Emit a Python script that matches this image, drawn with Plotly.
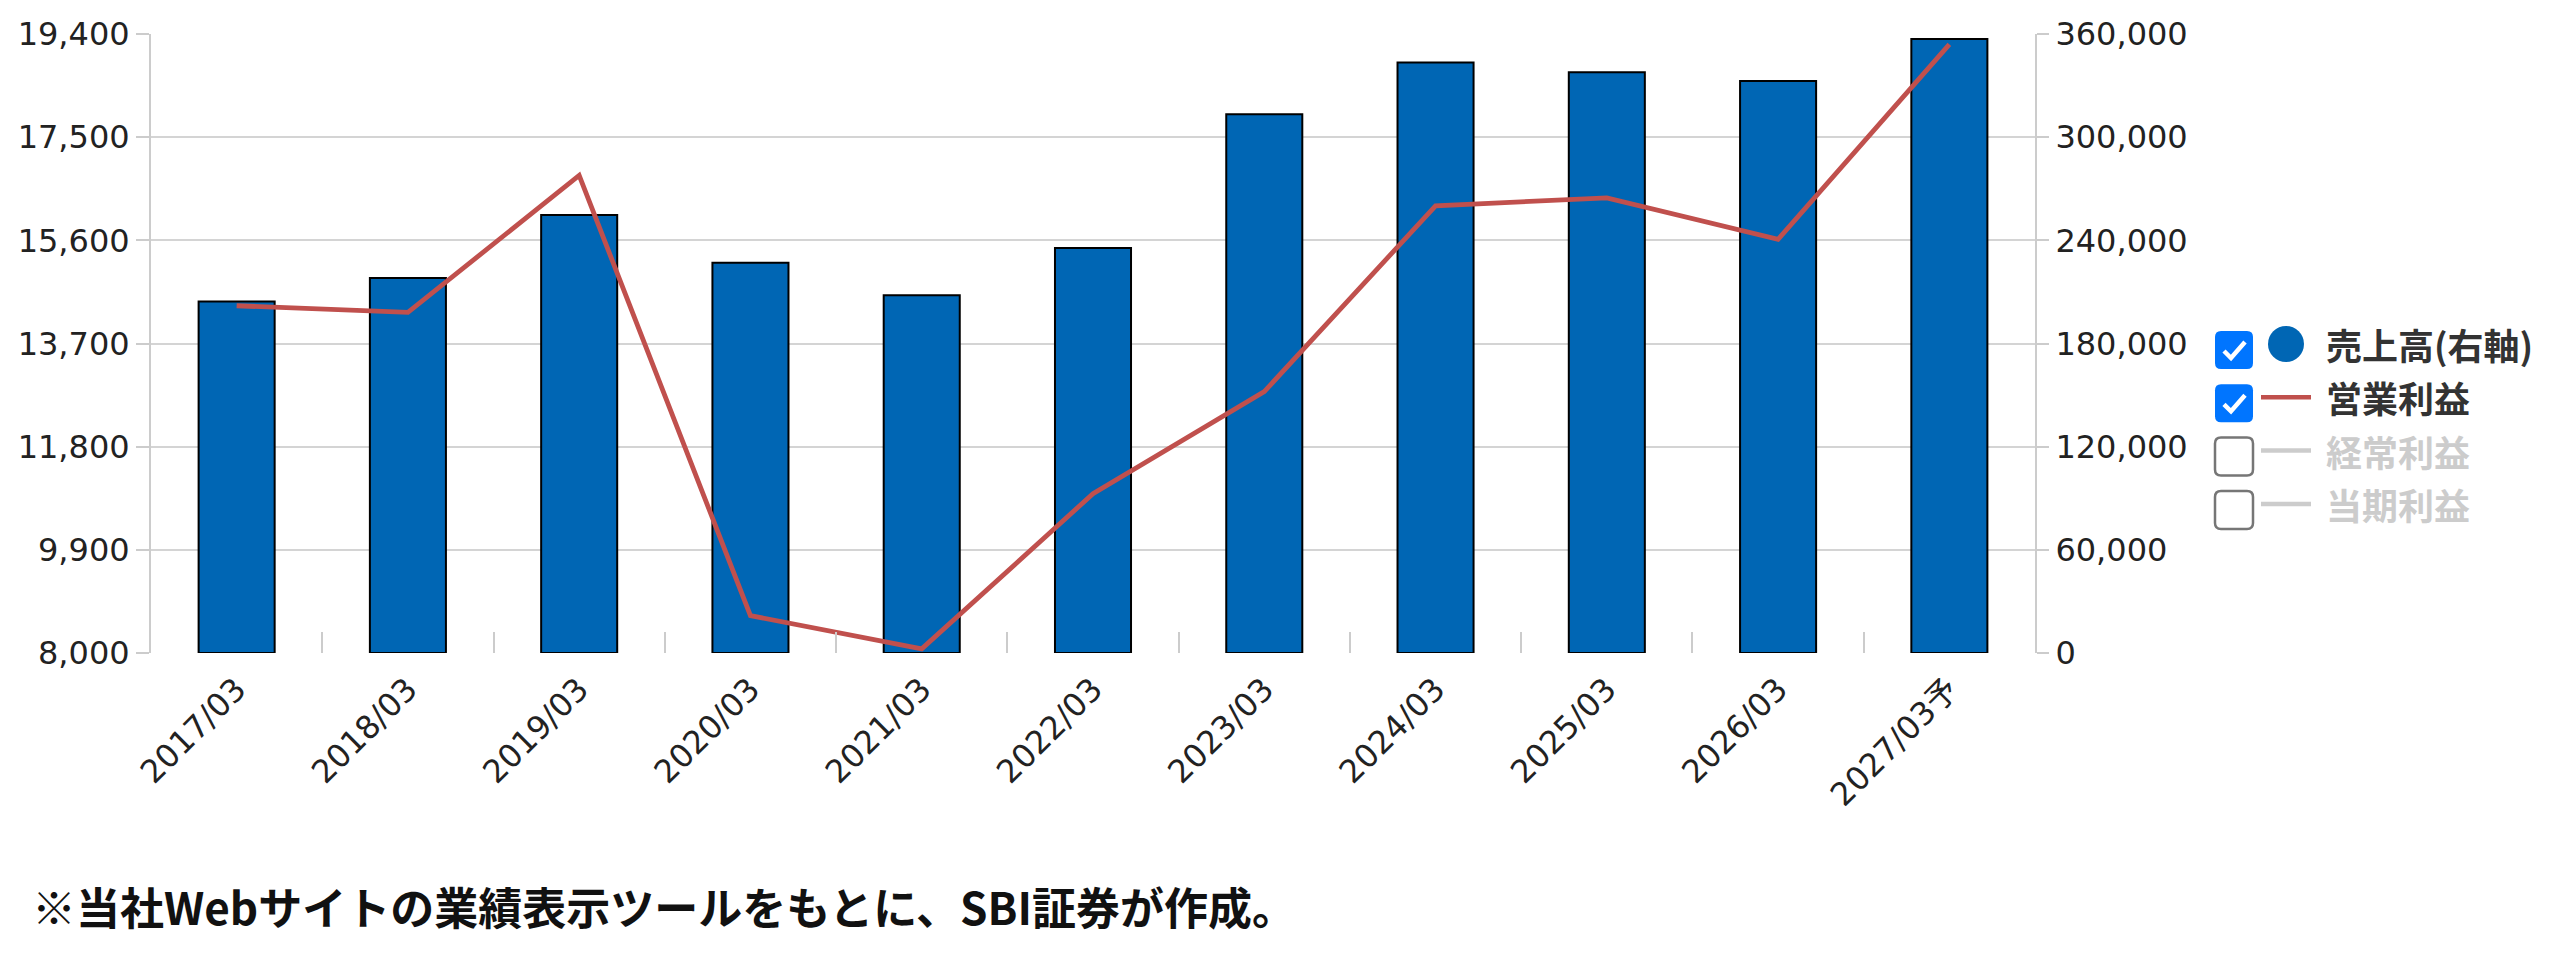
import plotly.graph_objects as go

# 決算期
periods = ["2017/03", "2018/03", "2019/03", "2020/03", "2021/03", "2022/03",
           "2023/03", "2024/03", "2025/03", "2026/03", "2027/03予"]
# 売上高 (右軸)
sales = [204400, 218100, 254800, 227000, 208000, 235500,
         313400, 343400, 337800, 332700, 357100]
# 営業利益 (左軸)
op_profit = [14395, 14273, 16795, 8688, 8076, 10934,
             12814, 16237, 16382, 15618, 19209]

left_ticks = [8000, 9900, 11800, 13700, 15600, 17500, 19400]
right_ticks = [0, 60000, 120000, 180000, 240000, 300000, 360000]

legend_labels = ["売上高(右軸)", "営業利益", "経常利益", "当期利益"]
legend_checked = [True, True, False, False]

note = "※当社Webサイトの業績表示ツールをもとに、SBI証券が作成。"

BAR = "#0066b4"
RED = "#c0504d"
GRID = "#d4d4d4"
W, H = 2560, 963
L, R, T, B = 151, 2035, 34, 653


def px(x):
    return (x - L) / (R - L)


def py(y):
    return (B - y) / (B - T)


def rounded_box(x0, y0, x1, y1, r):
    pts = [f"M{px(x0 + r)},{py(y0)}", f"L{px(x1 - r)},{py(y0)}",
           f"Q{px(x1)},{py(y0)} {px(x1)},{py(y0 + r)}", f"L{px(x1)},{py(y1 - r)}",
           f"Q{px(x1)},{py(y1)} {px(x1 - r)},{py(y1)}", f"L{px(x0 + r)},{py(y1)}",
           f"Q{px(x0)},{py(y1)} {px(x0)},{py(y1 - r)}", f"L{px(x0)},{py(y0 + r)}",
           f"Q{px(x0)},{py(y0)} {px(x0 + r)},{py(y0)}", "Z"]
    return " ".join(pts)


fig = go.Figure()
fig.add_trace(go.Bar(x=periods, y=sales, name="売上高(右軸)", yaxis="y",
                     marker=dict(color=BAR, line=dict(color="#000000", width=2))))
fig.add_trace(go.Scatter(x=periods, y=op_profit, name="営業利益", yaxis="y2",
                         mode="lines", line=dict(color=RED, width=4.8)))

tick_font = dict(family="DejaVu Sans, Noto Sans CJK JP", size=32, color="#222222")

fig.update_layout(
    width=W, height=H,
    margin=dict(l=L, r=W - R, t=T, b=H - B),
    paper_bgcolor="white", plot_bgcolor="white",
    showlegend=False, bargap=0.556,
    xaxis=dict(type="category", categoryorder="array", categoryarray=periods,
               tickson="boundaries", ticks="inside", ticklen=21, tickwidth=2,
               tickcolor="#cccccc", tickangle=-45, tickfont=tick_font,
               ticklabelstandoff=10,
               showgrid=False, showline=False, zeroline=False),
    yaxis=dict(side="right", range=[0, 360000], tickvals=right_ticks,
               tickformat=",d", tickfont=tick_font,
               showgrid=True, gridcolor=GRID, gridwidth=2,
               showline=True, linecolor="#cccccc", linewidth=2,
               ticks="outside", ticklen=12, tickwidth=2, tickcolor="#cccccc",
               zeroline=False),
    yaxis2=dict(side="left", overlaying="y", range=[8000, 19400], tickvals=left_ticks,
                tickformat=",d", tickfont=tick_font, showgrid=False,
                showline=True, linecolor="#cccccc", linewidth=2,
                ticks="outside", ticklen=13, tickwidth=2, tickcolor="#cccccc",
                zeroline=False),
)

# checkbox legend
shapes = []
annotations = []
for i, (lab, on) in enumerate(zip(legend_labels, legend_checked)):
    yc = 344 + i * 53.3
    by = yc + 6
    shapes.append(dict(type="path", xref="paper", yref="paper",
                       path=rounded_box(2215, by - 19, 2253, by + 19, 6),
                       fillcolor="#0075ff" if on else "white",
                       line=dict(color="#0075ff" if on else "#767676", width=0 if on else 2.5)))
    if on:
        chk = (f"M{px(2224)},{py(by + 1)} L{px(2231)},{py(by + 8)} "
               f"L{px(2245)},{py(by - 8)}")
        shapes.append(dict(type="path", xref="paper", yref="paper", path=chk,
                           line=dict(color="white", width=4.5)))
    if i == 0:
        shapes.append(dict(type="circle", xref="paper", yref="paper",
                           x0=px(2268), x1=px(2304), y0=py(yc + 18), y1=py(yc - 18),
                           fillcolor=BAR, line=dict(width=0)))
    else:
        shapes.append(dict(type="line", xref="paper", yref="paper",
                           x0=px(2261), x1=px(2311), y0=py(yc), y1=py(yc),
                           line=dict(color=RED if on else "#cccccc", width=4.5)))
    annotations.append(dict(xref="paper", yref="paper", x=px(2324), y=py(yc),
                            xanchor="left", yanchor="middle", showarrow=False,
                            text=lab,
                            font=dict(family="Noto Sans CJK JP", size=36, weight="bold",
                                      color="#333333" if on else "#cccccc")))

annotations.append(dict(xref="paper", yref="paper", x=px(30), y=py(906),
                        xanchor="left", yanchor="middle", showarrow=False, text=note,
                        font=dict(family="Noto Sans CJK JP", size=44, weight="bold",
                                  color="#111111")))

fig.update_layout(shapes=shapes, annotations=annotations)

fig.write_html("out.html", config={"displayModeBar": False},
               post_script="document.body.style.margin='0';document.body.style.overflow='hidden';")
